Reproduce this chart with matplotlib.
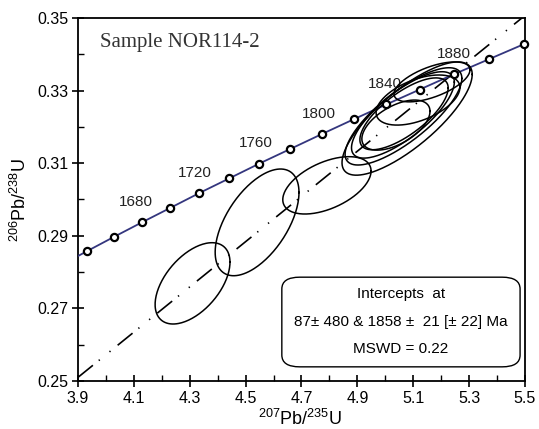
import numpy as np
import matplotlib
matplotlib.use("Agg")
import matplotlib.pyplot as plt
from matplotlib.patches import FancyBboxPatch

plt.rcParams['mathtext.fontset'] = 'custom'
plt.rcParams['mathtext.rm'] = 'Liberation Sans'
plt.rcParams['mathtext.it'] = 'Liberation Sans:italic'
plt.rcParams['mathtext.bf'] = 'Liberation Sans:bold'

# concordia ages (Ma) and ratios
conc_age = [1600, 1620, 1640, 1660, 1680, 1700, 1720, 1740, 1760, 1780,
            1800, 1820, 1840, 1860, 1880, 1900]
conc_x = [3.8344, 3.9306, 4.0287, 4.1287, 4.2307, 4.3348, 4.4409, 4.5491,
          4.6595, 4.7721, 4.8869, 5.0040, 5.1234, 5.2453, 5.3695, 5.4962]
conc_y = [0.2817, 0.2857, 0.2897, 0.2937, 0.2977, 0.3018, 0.3058, 0.3099,
          0.3139, 0.3180, 0.3221, 0.3262, 0.3303, 0.3345, 0.3386, 0.3428]
label_ages = [1680, 1720, 1760, 1800, 1840, 1880]

# analyses: 207Pb/235U, 206Pb/238U, 2s errors, error correlation
ell_x = [4.310, 4.541, 4.791, 5.078, 5.065, 5.063, 5.067, 5.038, 5.117, 5.167]
ell_y = [0.2769, 0.2937, 0.3039, 0.3223, 0.3229, 0.3233, 0.3236, 0.3205, 0.3274, 0.3324]
ell_sx = [0.134, 0.150, 0.158, 0.233, 0.209, 0.184, 0.158, 0.122, 0.150, 0.136]
ell_sy = [0.0112, 0.0147, 0.0079, 0.0156, 0.0134, 0.0119, 0.0099, 0.0069, 0.0069, 0.0055]
ell_rho = [0.52, 0.56, 0.50, 0.78, 0.78, 0.76, 0.72, 0.55, 0.50, 0.60]

# discordia intercepts (ratios at 87 Ma and 1858 Ma)
lower_int = (0.0895, 0.01359)
upper_int = (5.2330, 0.33406)

xlim = (3.9, 5.5)
ylim = (0.25, 0.35)

fig = plt.figure(figsize=(5.39, 4.29), dpi=100)
ax = fig.add_axes([78/539, 1-381/429, 447/539, 363/429])
ax.set_xlim(*xlim)
ax.set_ylim(*ylim)

# discordia
slope = (upper_int[1]-lower_int[1])/(upper_int[0]-lower_int[0])
dx = np.array(xlim)
dy = lower_int[1] + slope*(dx - lower_int[0])
ax.plot(dx, dy, color='black', lw=1.2,
        ls=(0, (11.5, 4.5, 0.8, 7.5, 0.8, 5.5)), zorder=2)

# concordia
ax.plot(conc_x, conc_y, color='#34367e', lw=1.3, zorder=3)
ax.plot(conc_x[1:], conc_y[1:], 'o', ms=5.2, mfc='white', mec='black',
        mew=1.6, zorder=5, clip_on=False)
for a in label_ages:
    i = conc_age.index(a)
    ax.annotate(str(a), (conc_x[i], conc_y[i]), xytext=(-25, 4),
                textcoords='offset points', ha='center', va='center',
                fontsize=11, family='Liberation Sans', color='#222222')

# error ellipses
t = np.linspace(0, 2*np.pi, 200)
for x, y, sx, sy, r in zip(ell_x, ell_y, ell_sx, ell_sy, ell_rho):
    ex = x + sx*np.cos(t)
    ey = y + sy*np.cos(t - np.arccos(r))
    ax.plot(ex, ey, color='black', lw=1.1, zorder=4)

ax.text((100-78)/447, 1-(43-18)/363, 'Sample NOR114-2', transform=ax.transAxes,
        fontsize=15, family='Liberation Serif', color='#333333',
        ha='left', va='center')

# result box
box = FancyBboxPatch((0.456, 0.039), 0.533, 0.247,
                     boxstyle='round,pad=0,rounding_size=0.04',
                     transform=ax.transAxes, fc='white', ec='black', lw=1.0,
                     zorder=6, mutation_aspect=363/447)
ax.add_patch(box)
bx = (0.456+0.989)/2
for txt, py in [('Intercepts  at', 294),
                ('87± 480 & 1858 ±  21 [± 22] Ma', 322),
                ('MSWD = 0.22', 349)]:
    ax.text(bx, (381-py)/363, txt, transform=ax.transAxes, ha='center',
            va='center', fontsize=11, family='Liberation Sans', zorder=7)

# axes styling
ax.set_xticks(np.arange(3.9, 5.51, 0.2))
ax.set_xticklabels(['3.9', '4.1', '4.3', '4.5', '4.7', '4.9', '5.1', '5.3', '5.5'])
ax.set_xticks(np.arange(4.0, 5.5, 0.2), minor=True)
ax.set_yticks(np.arange(0.25, 0.351, 0.02))
ax.set_yticklabels(['0.25', '0.27', '0.29', '0.31', '0.33', '0.35'])
ax.set_yticks(np.arange(0.26, 0.35, 0.02), minor=True)
ax.tick_params(which='major', direction='inout', length=8, width=1.2,
               labelsize=11.5, pad=3)
ax.tick_params(which='minor', direction='in', length=4, width=1.0)
for lab in ax.get_xticklabels() + ax.get_yticklabels():
    lab.set_family('Liberation Sans')
for s in ax.spines.values():
    s.set_linewidth(1.3)

ax.set_xlabel(r'$^{207}$Pb/$^{235}$U', fontsize=13, family='Liberation Sans')
ax.set_ylabel(r'$^{206}$Pb/$^{238}$U', fontsize=13, family='Liberation Sans')
ax.xaxis.set_label_coords((300-78)/447, -(409-381)/363)
ax.yaxis.set_label_coords(-(78-30)/447, 0.5)

fig.savefig('out.png', dpi=100)
